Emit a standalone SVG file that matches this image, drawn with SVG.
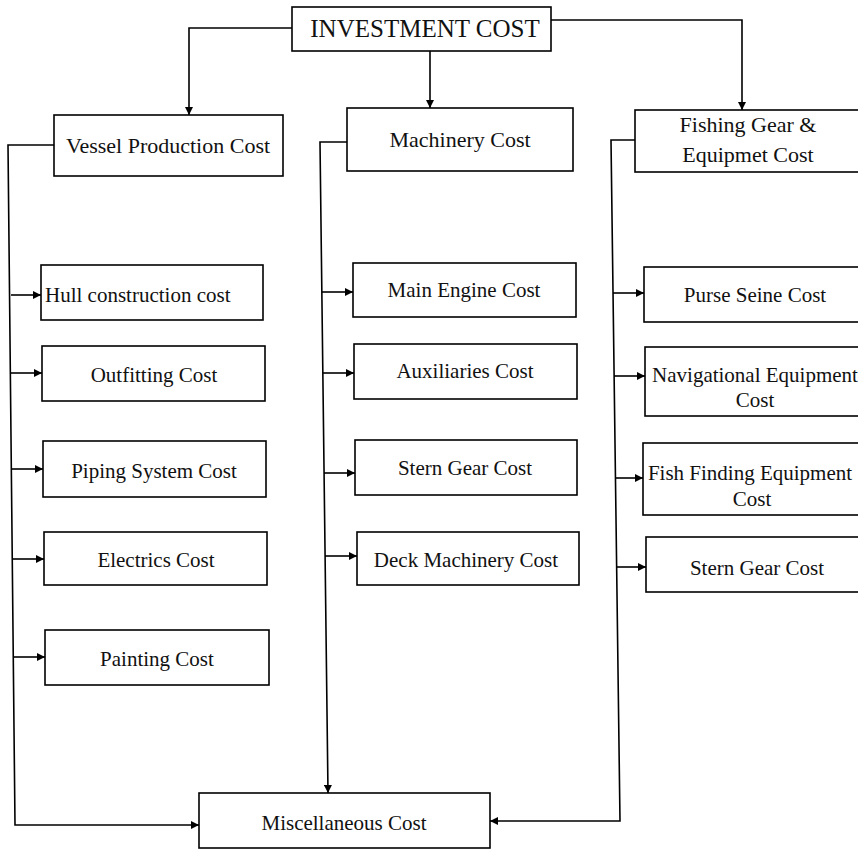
<svg xmlns="http://www.w3.org/2000/svg" width="858" height="850" viewBox="0 0 858 850">
<style>
.box{fill:#fff;stroke:#000;stroke-width:1.6}
.t{font-family:"Liberation Serif","Times New Roman",serif;fill:#111;text-anchor:middle}
.l1{font-size:25px}
.l2{font-size:22px}
.l3{font-size:21px}
.c{fill:none;stroke:#000;stroke-width:1.6}
</style>
<defs>
<marker id="ah" viewBox="0 0 10 10" refX="10" refY="5" markerWidth="9" markerHeight="8" markerUnits="userSpaceOnUse" orient="auto">
<path d="M0,0 L10,5 L0,10 z" fill="#000"/>
</marker>
</defs>
<rect width="858" height="850" fill="#fff"/>
<g id="connectors">
<path class="c" d="M292,28 H189 V115" marker-end="url(#ah)"/>
<path class="c" d="M430,51 V108" marker-end="url(#ah)"/>
<path class="c" d="M551,20 H742 V110" marker-end="url(#ah)"/>
<path class="c" d="M54,145 H8 L15,825 H199" marker-end="url(#ah)"/>
<path class="c" d="M11,295 H41" marker-end="url(#ah)"/>
<path class="c" d="M11,373 H42" marker-end="url(#ah)"/>
<path class="c" d="M12,469 H43" marker-end="url(#ah)"/>
<path class="c" d="M13,559 H44" marker-end="url(#ah)"/>
<path class="c" d="M14,657 H45" marker-end="url(#ah)"/>
<path class="c" d="M347,142 H320 L328,793" marker-end="url(#ah)"/>
<path class="c" d="M322,292 H353" marker-end="url(#ah)"/>
<path class="c" d="M323,373 H354" marker-end="url(#ah)"/>
<path class="c" d="M324,473 H355" marker-end="url(#ah)"/>
<path class="c" d="M325,556 H357" marker-end="url(#ah)"/>
<path class="c" d="M635,140 H611 L620,821 H490" marker-end="url(#ah)"/>
<path class="c" d="M613,293 H644" marker-end="url(#ah)"/>
<path class="c" d="M614,376 H645" marker-end="url(#ah)"/>
<path class="c" d="M615,478 H643" marker-end="url(#ah)"/>
<path class="c" d="M616,567 H646" marker-end="url(#ah)"/>
</g>
<g id="investment">
<rect class="box" x="292" y="7" width="259" height="44"/>
<text class="t l1" x="425" y="37">INVESTMENT COST</text>
</g>
<g id="vessel">
<rect class="box" x="54" y="115" width="229" height="61"/>
<text class="t l2" x="168" y="153">Vessel Production Cost</text>
</g>
<g id="machinery">
<rect class="box" x="347" y="108" width="226" height="63"/>
<text class="t l2" x="460" y="147">Machinery Cost</text>
</g>
<g id="fishing">
<rect class="box" x="635" y="110" width="240" height="62"/>
<text class="t l2" x="748" y="132">Fishing Gear &amp;</text>
<text class="t l2" x="748" y="162">Equipmet Cost</text>
</g>
<g id="hull">
<rect class="box" x="41" y="265" width="222" height="55"/>
<text class="t l3" x="45" y="302" style="text-anchor:start">Hull construction cost</text>
</g>
<g id="outfitting">
<rect class="box" x="42" y="346" width="223" height="55"/>
<text class="t l3" x="154" y="382">Outfitting Cost</text>
</g>
<g id="piping">
<rect class="box" x="43" y="441" width="223" height="56"/>
<text class="t l3" x="154" y="478">Piping System Cost</text>
</g>
<g id="electrics">
<rect class="box" x="44" y="532" width="223" height="53"/>
<text class="t l3" x="156" y="567">Electrics Cost</text>
</g>
<g id="painting">
<rect class="box" x="45" y="630" width="224" height="55"/>
<text class="t l3" x="157" y="666">Painting Cost</text>
</g>
<g id="main-engine">
<rect class="box" x="353" y="263" width="223" height="54"/>
<text class="t l3" x="464" y="297">Main Engine Cost</text>
</g>
<g id="auxiliaries">
<rect class="box" x="354" y="344" width="223" height="55"/>
<text class="t l3" x="465" y="378">Auxiliaries Cost</text>
</g>
<g id="stern-gear-m">
<rect class="box" x="355" y="440" width="222" height="55"/>
<text class="t l3" x="465" y="475">Stern Gear Cost</text>
</g>
<g id="deck-machinery">
<rect class="box" x="357" y="532" width="222" height="53"/>
<text class="t l3" x="466" y="567">Deck Machinery Cost</text>
</g>
<g id="purse-seine">
<rect class="box" x="644" y="267" width="230" height="55"/>
<text class="t l3" x="755" y="302">Purse Seine Cost</text>
</g>
<g id="navigational">
<rect class="box" x="645" y="347" width="230" height="69"/>
<text class="t l3" x="755" y="382">Navigational Equipment</text>
<text class="t l3" x="755" y="407">Cost</text>
</g>
<g id="fish-finding">
<rect class="box" x="643" y="443" width="232" height="72"/>
<text class="t l3" x="750" y="480">Fish Finding Equipment</text>
<text class="t l3" x="752" y="506">Cost</text>
</g>
<g id="stern-gear-r">
<rect class="box" x="646" y="537" width="230" height="55"/>
<text class="t l3" x="757" y="575">Stern Gear Cost</text>
</g>
<g id="miscellaneous">
<rect class="box" x="199" y="793" width="291" height="55"/>
<text class="t l3" x="344" y="830">Miscellaneous Cost</text>
</g>
</svg>
